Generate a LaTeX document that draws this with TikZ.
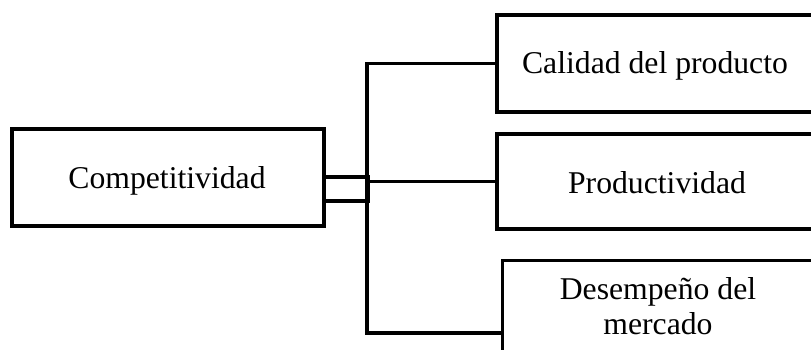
\documentclass[tikz,border=0pt]{standalone}
\usepackage{fontspec}
\setmainfont{Liberation Serif}
\begin{document}
\begin{tikzpicture}[x=1pt, y=-1pt,
  every node/.style={font=\fontsize{31.7}{34.5}\selectfont},
  box/.style={draw, line width=3.1pt, rectangle, inner sep=0pt},
  txt/.style={anchor=base, inner sep=0pt, align=center},
  link/.style={draw, line width=3.1pt}]
\useasboundingbox (0,0) rectangle (811,349);

% main concept
\node[box, minimum width=312pt, minimum height=97pt] (comp) at (168,177.5) {};
\node[txt] (comptxt) at (167,188) {Competitividad};
% small joint block on its right side
\node[box, minimum width=44pt, minimum height=24pt] (stub) at (346,189) {};

% the three factors (boxes run past the right border)
\node[box, minimum width=317pt, minimum height=97pt] (cal) at (655.5,63.5) {};
\node[txt] (caltxt) at (655,73) {Calidad del producto};
\node[box, minimum width=317pt, minimum height=95pt] (prod) at (655.5,181.5) {};
\node[txt] (prodtxt) at (657,193) {Productividad};
\node[box, minimum width=314pt, minimum height=120pt, anchor=north west] (desem) at (501,259) {};
\node[txt] (desemtxt) at (658,334) {Desempe\~no del\\mercado};

% tree connector
\coordinate (trunkbot) at (367,333);
\draw[link] (cal.west) -| (trunkbot) -- (desem.west |- trunkbot);
\draw[link] (prod.west) -- (prod.west -| stub.east);
\end{tikzpicture}
\end{document}
